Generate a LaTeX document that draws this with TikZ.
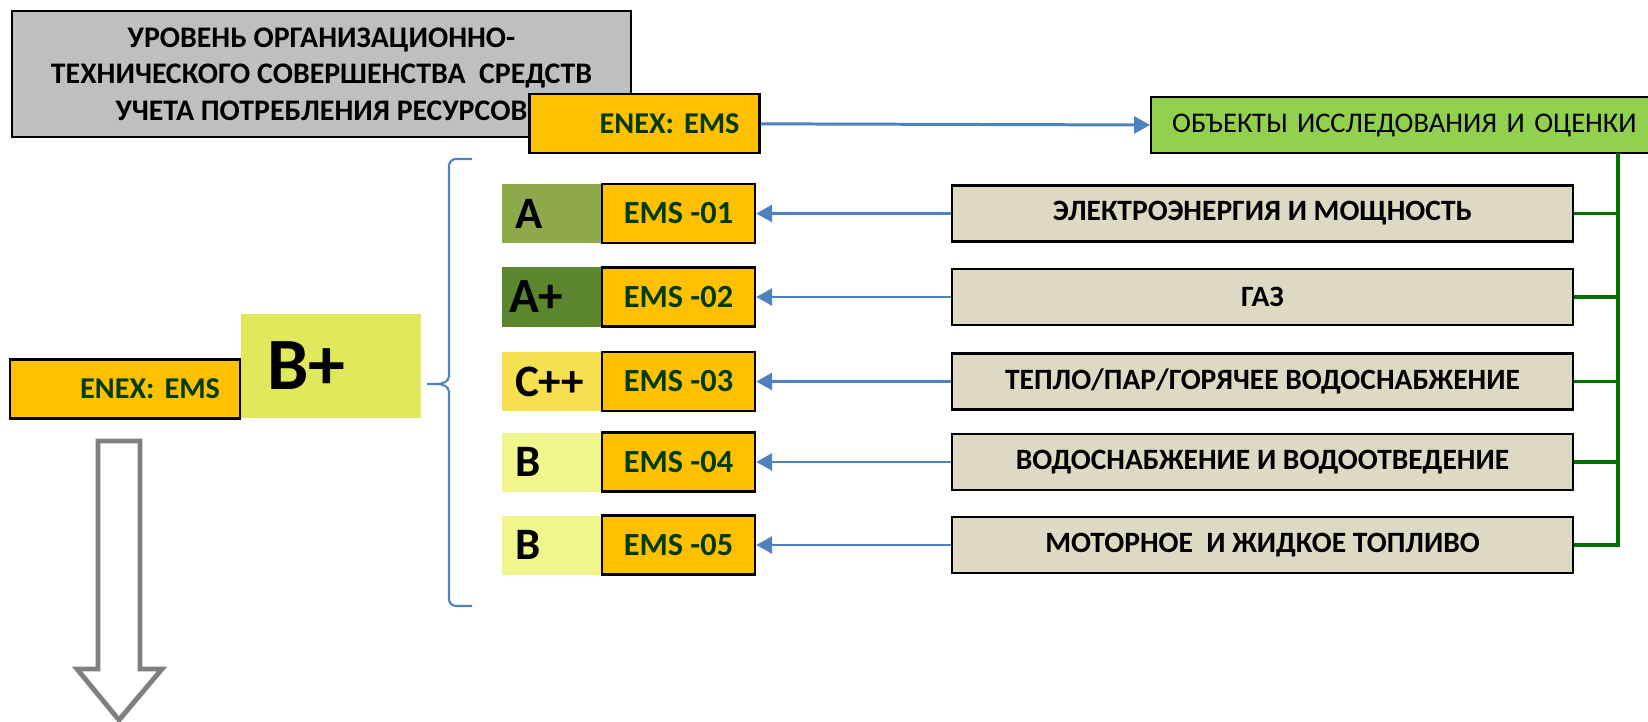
\documentclass[tikz,border=0pt]{standalone}
\usepackage{fontspec}
\setmainfont{Carlito}
\usepackage{xcolor}
\usepackage{tikz}
\usetikzlibrary{positioning,arrows.meta}
\frenchspacing

\definecolor{orng}{HTML}{FFC000}
\definecolor{emsgreen}{HTML}{003C00}
\definecolor{lgray}{HTML}{BFBFBF}
\definecolor{objgreen}{HTML}{92D050}
\definecolor{tan}{HTML}{DDD9C3}
\definecolor{linkblue}{HTML}{4F81BD}
\definecolor{treegreen}{HTML}{007000}
\definecolor{gradeA}{HTML}{8EA84C}
\definecolor{gradeAp}{HTML}{5C862E}
\definecolor{gradeC}{HTML}{F5E14F}
\definecolor{gradeB}{HTML}{F1F68C}
\definecolor{gradeBp}{HTML}{E0E85C}

\begin{document}
\begin{tikzpicture}[
  >={Triangle[length=4.5pt,width=4.8pt]},
  title/.style={draw, line width=0.7pt, fill=lgray, align=center,
                minimum width=6.19cm, minimum height=1.26cm,
                font=\fontsize{8.5}{10.4}\selectfont\bfseries},
  enex/.style={draw, line width=0.7pt, fill=orng, align=right,
               inner xsep=0.2cm, text width=1.9cm, minimum height=0.59cm,
               text=emsgreen, font=\fontsize{8.6}{10}\selectfont\bfseries},
  obj/.style={draw, line width=0.7pt, fill=objgreen, align=left,
              inner xsep=0.21cm, text width=5.0cm, minimum height=0.56cm,
              font=\fontsize{8.1}{10}\selectfont},
  grade/.style={align=left, inner xsep=0.13cm, text width=0.74cm,
                minimum height=0.59cm,
                font=\fontsize{12.8}{14}\selectfont\bfseries},
  ems/.style={draw, line width=0.7pt, fill=orng, align=center,
              minimum width=1.53cm, minimum height=0.59cm,
              text=emsgreen, font=\fontsize{9.2}{10}\selectfont\bfseries},
  src/.style={draw, line width=0.7pt, fill=tan, align=center,
              minimum width=6.21cm, minimum height=0.56cm,
              font=\fontsize{8.4}{10}\selectfont\bfseries},
  arr/.style={->, line width=0.85pt, color=linkblue},
  tree/.style={line width=1.1pt, color=treegreen},
  bracket/.style={line width=0.6pt, color=linkblue},
  hollow/.style={draw=gray, line width=1.4pt, fill=white},
]
\useasboundingbox (0,0) rectangle (16.48,-7.22);

% header
\node[title] (title) at (3.215,-0.74)
  {УРОВЕНЬ ОРГАНИЗАЦИОННО-\\ТЕХНИЧЕСКОГО СОВЕРШЕНСТВА\ \ СРЕДСТВ\\УЧЕТА ПОТРЕБЛЕНИЯ РЕСУРСОВ};
\node[enex] (enexT) at (6.445,-1.235) {ENEX: EMS};
\node[obj, anchor=west] (obj) at (11.50,-1.25) {ОБЪЕКТЫ ИССЛЕДОВАНИЯ И ОЦЕНКИ};

% grades and EMS blocks
\node[grade, fill=gradeA]  (g1) at (5.52,-2.135) {A};
\node[grade, fill=gradeAp, font=\fontsize{14}{15}\selectfont\bfseries, inner xsep=0.07cm, text width=0.86cm] (g2) at (5.52,-2.97) {A+};
\node[grade, fill=gradeC]  (g3) at (5.52,-3.815) {C++};
\node[grade, fill=gradeB]  (g4) at (5.52,-4.62) {B};
\node[grade, fill=gradeB]  (g5) at (5.52,-5.45) {B};

\node[ems] (e1) at (6.785,-2.135) {EMS -01};
\node[ems] (e2) at (6.785,-2.97)  {EMS -02};
\node[ems] (e3) at (6.785,-3.815) {EMS -03};
\node[ems] (e4) at (6.785,-4.62)  {EMS -04};
\node[ems] (e5) at (6.785,-5.45)  {EMS -05};

% resources
\node[src] (s1) at (12.625,-2.135) {ЭЛЕКТРОЭНЕРГИЯ И МОЩНОСТЬ};
\node[src] (s2) at (12.625,-2.97)  {ГАЗ};
\node[src] (s3) at (12.625,-3.815) {ТЕПЛО/ПАР/ГОРЯЧЕЕ ВОДОСНАБЖЕНИЕ};
\node[src] (s4) at (12.625,-4.62)  {ВОДОСНАБЖЕНИЕ И ВОДООТВЕДЕНИЕ};
\node[src] (s5) at (12.625,-5.45)  {МОТОРНОЕ\ \ И ЖИДКОЕ ТОПЛИВО};

% overall level
\node[enex] (enexL) at (1.25,-3.89) {ENEX: EMS};
\node[grade, fill=gradeBp, inner xsep=0.26cm, text width=1.28cm, minimum height=1.04cm,
      font=\fontsize{21}{22}\selectfont\bfseries] (bplus) at (3.31,-3.66) {B+};

\coordinate (bus) at (16.18,-1.53);
\coordinate (brbot) at (4.72,-6.06);
\coordinate (brtop) at (4.72,-1.59);

\draw[arr] (enexT) -- (obj.west);
\draw[arr] (s1) -- (e1);
\draw[arr] (s2) -- (e2);
\draw[arr] (s3) -- (e3);
\draw[arr] (s4) -- (e4);
\draw[arr] (s5) -- (e5);

\draw[tree] (s5.east) -| (bus);
\draw[tree] (s1.east) -- (s1.east -| bus);
\draw[tree] (s2.east) -- (s2.east -| bus);
\draw[tree] (s3.east) -- (s3.east -| bus);
\draw[tree] (s4.east) -- (s4.east -| bus);

% curly bracket over the five EMS rows
\draw[bracket] (brtop) -- (4.56,-1.59) to[out=180,in=90] (4.49,-1.66)
  -- (4.49,-3.76) to[out=-90,in=0] (4.37,-3.84) -- (4.27,-3.84)
  (4.37,-3.84) to[out=0,in=90] (4.49,-3.92)
  -- (4.49,-5.99) to[out=-90,in=180] (4.56,-6.06) -- (brbot);

% down arrow
\draw[hollow] (0.98,-4.41) -- (1.40,-4.41) -- (1.40,-6.69) -- (1.62,-6.69)
  -- (1.19,-7.20) -- (0.77,-6.69) -- (0.98,-6.69) -- cycle;
\end{tikzpicture}
\end{document}
